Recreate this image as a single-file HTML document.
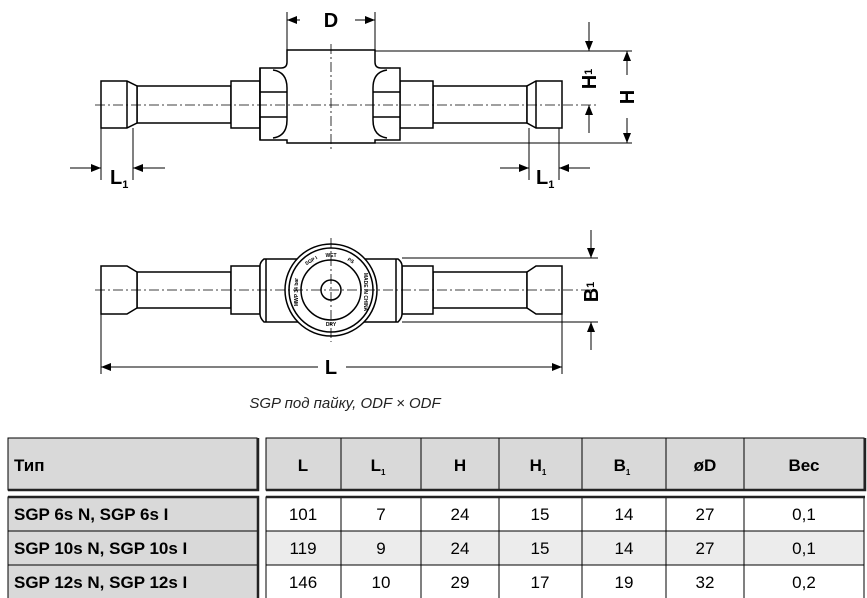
<!DOCTYPE html>
<html><head><meta charset="utf-8"><style>
html,body{margin:0;padding:0;background:#fff;}
svg{display:block;}
</style></head><body>
<svg width="867" height="598" viewBox="0 0 867 598" xmlns="http://www.w3.org/2000/svg" font-family="Liberation Sans, DejaVu Sans, sans-serif">
<defs>
<marker id="ar" markerWidth="10" markerHeight="8" refX="10" refY="4" orient="auto" markerUnits="userSpaceOnUse"><path d="M0,0 L10,4 L0,8 z" fill="#000"/></marker>
</defs>
<g stroke="#000" stroke-width="1.5" fill="#fff">
<!-- TOP VIEW -->
<rect x="137" y="86" width="94" height="37"/>
<rect x="433" y="86" width="94" height="37"/>
<path d="M101,81 H127 L137,86 V123 L127,128 H101 Z"/>
<path d="M562,81 H536 L527,86 V123 L536,128 H562 Z"/>
<line x1="127" y1="81" x2="127" y2="128"/>
<line x1="536" y1="81" x2="536" y2="128"/>
<rect x="231" y="81" width="29" height="47"/>
<rect x="400" y="81" width="33" height="47"/>
<path d="M287,50 H375 V62 Q375,68 381,68 H400 V140 H375 V143 H287 V140 H260 V68 H281 Q287,68 287,62 Z"/>
<path d="M273,70 Q287,72 287,88 V120 Q287,136 273,138" fill="none"/>
<path d="M387,70 Q373,72 373,88 V120 Q373,136 387,138" fill="none"/>
<line x1="260" y1="92" x2="287" y2="92"/><line x1="260" y1="117" x2="287" y2="117"/>
<line x1="373" y1="92" x2="400" y2="92"/><line x1="373" y1="117" x2="400" y2="117"/>
<line x1="260" y1="68" x2="260" y2="140"/>
<!-- BOTTOM VIEW -->
<rect x="137" y="272" width="94" height="36"/>
<rect x="433" y="272" width="94" height="36"/>
<path d="M101,266 H127 L137,272 V308 L127,314 H101 Z"/>
<path d="M562,266 H536 L527,272 V308 L536,314 H562 Z"/>
<rect x="231" y="266" width="29" height="48"/>
<rect x="402" y="266" width="31" height="48"/>
<path d="M264,259 H398 Q402,262 402,266 V314 Q402,318 398,322 H264 Q260,318 260,314 V266 Q260,262 264,259 Z"/>
<line x1="266" y1="259" x2="266" y2="322"/><line x1="396" y1="259" x2="396" y2="322"/>
<circle cx="331" cy="290" r="46"/>
<circle cx="331" cy="290" r="42"/>
<circle cx="331" cy="290" r="30"/>
<circle cx="331" cy="290" r="10"/>
</g>
<g font-size="5" font-weight="bold" fill="#000" text-anchor="middle">
<text x="312" y="262" transform="rotate(-30 312 262)">SGP I</text>
<text x="331" y="257">WET</text>
<text x="350" y="262" transform="rotate(30 350 262)">PS</text>
<text x="364" y="292" transform="rotate(90 364 292)">MADE IN CHINA</text>
<text x="331" y="326">DRY</text>
<text x="298" y="292" transform="rotate(-90 298 292)">MWP 34 bar</text>
</g>
<g stroke="#000" stroke-width="0.8" stroke-dasharray="10,3,2,3" fill="none">
<line x1="95" y1="105" x2="598" y2="105"/>
<line x1="331" y1="44" x2="331" y2="152"/>
<line x1="95" y1="290" x2="598" y2="290"/>
<line x1="331" y1="238" x2="331" y2="342"/>
</g>
<g stroke="#000" stroke-width="1" fill="none">
<line x1="287" y1="12" x2="287" y2="50"/><line x1="375" y1="12" x2="375" y2="50"/>
<line x1="300" y1="20" x2="287" y2="20" marker-end="url(#ar)"/>
<line x1="355" y1="20" x2="375" y2="20" marker-end="url(#ar)"/>
<line x1="375" y1="51" x2="632" y2="51"/><line x1="375" y1="143" x2="632" y2="143"/>
<line x1="589" y1="22" x2="589" y2="51" marker-end="url(#ar)"/>
<line x1="589" y1="133" x2="589" y2="105" marker-end="url(#ar)"/>
<line x1="627" y1="75" x2="627" y2="51" marker-end="url(#ar)"/>
<line x1="627" y1="118" x2="627" y2="143" marker-end="url(#ar)"/>
<line x1="101" y1="128" x2="101" y2="180"/><line x1="133" y1="128" x2="133" y2="180"/>
<line x1="70" y1="168" x2="101" y2="168" marker-end="url(#ar)"/>
<line x1="165" y1="168" x2="133" y2="168" marker-end="url(#ar)"/>
<line x1="529" y1="128" x2="529" y2="180"/><line x1="559" y1="128" x2="559" y2="180"/>
<line x1="500" y1="168" x2="529" y2="168" marker-end="url(#ar)"/>
<line x1="590" y1="168" x2="559" y2="168" marker-end="url(#ar)"/>
<line x1="402" y1="258" x2="598" y2="258"/><line x1="402" y1="322" x2="598" y2="322"/>
<line x1="591" y1="230" x2="591" y2="258" marker-end="url(#ar)"/>
<line x1="591" y1="350" x2="591" y2="322" marker-end="url(#ar)"/>
<line x1="101" y1="314" x2="101" y2="374"/><line x1="562" y1="314" x2="562" y2="374"/>
<line x1="318" y1="367" x2="101" y2="367" marker-end="url(#ar)"/>
<line x1="346" y1="367" x2="562" y2="367" marker-end="url(#ar)"/>
</g>
<g font-weight="bold" fill="#000" font-size="20">
<text x="331" y="27" text-anchor="middle">D</text>
<text x="110" y="184">L<tspan font-size="11" dy="4">1</tspan></text>
<text x="536" y="184">L<tspan font-size="11" dy="4">1</tspan></text>
<text x="331" y="374" text-anchor="middle">L</text>
<text transform="translate(596,79) rotate(-90)" text-anchor="middle">H<tspan font-size="11" dy="-4">1</tspan></text>
<text transform="translate(634,97) rotate(-90)" text-anchor="middle">H</text>
<text transform="translate(598,292) rotate(-90)" text-anchor="middle">B<tspan font-size="11" dy="-4">1</tspan></text>
</g>
<text x="345" y="408" font-size="15" font-style="italic" text-anchor="middle" fill="#222">SGP под пайку, ODF × ODF</text>
<!-- TABLE -->
<g stroke="#000" stroke-width="1">
<rect x="8" y="438" width="249" height="52" fill="#d9d9d9"/>
<rect x="266" y="438" width="598" height="52" fill="#d9d9d9"/>
<rect x="266" y="497" width="598" height="34" fill="#fff"/>
<rect x="266" y="531" width="598" height="34" fill="#ececec"/>
<rect x="266" y="565" width="598" height="34" fill="#fff"/>
<rect x="8" y="497" width="250" height="34" fill="#d9d9d9"/>
<rect x="8" y="531" width="250" height="34" fill="#d9d9d9"/>
<rect x="8" y="565" width="250" height="34" fill="#d9d9d9"/>
<path d="M341,438V490M421,438V490M499,438V490M582,438V490M666,438V490M744,438V490" fill="none"/>
<path d="M341,497V598M421,497V598M499,497V598M582,497V598M666,497V598M744,497V598" fill="none"/>
</g>
<g stroke="#222" stroke-width="2.5" fill="none">
<path d="M8,490H258V438"/><path d="M266,490H865V438"/>
<path d="M8,497H258V598"/><path d="M266,497H865"/>
</g>
<g font-size="17" fill="#000" text-anchor="middle">
<text x="14" y="471" text-anchor="start" font-weight="bold">Тип</text>
<g font-weight="bold">
<text x="303" y="471">L</text>
<text x="378" y="471">L<tspan font-size="8" dy="4">1</tspan></text>
<text x="460" y="471">H</text>
<text x="538" y="471">H<tspan font-size="8" dy="4">1</tspan></text>
<text x="622" y="471">B<tspan font-size="8" dy="4">1</tspan></text>
<text x="705" y="471">øD</text>
<text x="804" y="471">Вес</text>
</g>
<g font-weight="bold" text-anchor="start">
<text x="14" y="520">SGP 6s N, SGP 6s I</text>
<text x="14" y="554">SGP 10s N, SGP 10s I</text>
<text x="14" y="588">SGP 12s N, SGP 12s I</text>
</g>
<text x="303" y="520">101</text><text x="381" y="520">7</text><text x="460" y="520">24</text><text x="540" y="520">15</text><text x="624" y="520">14</text><text x="705" y="520">27</text><text x="804" y="520">0,1</text>
<text x="303" y="554">119</text><text x="381" y="554">9</text><text x="460" y="554">24</text><text x="540" y="554">15</text><text x="624" y="554">14</text><text x="705" y="554">27</text><text x="804" y="554">0,1</text>
<text x="303" y="588">146</text><text x="381" y="588">10</text><text x="460" y="588">29</text><text x="540" y="588">17</text><text x="624" y="588">19</text><text x="705" y="588">32</text><text x="804" y="588">0,2</text>
</g>
</svg>
</body></html>
